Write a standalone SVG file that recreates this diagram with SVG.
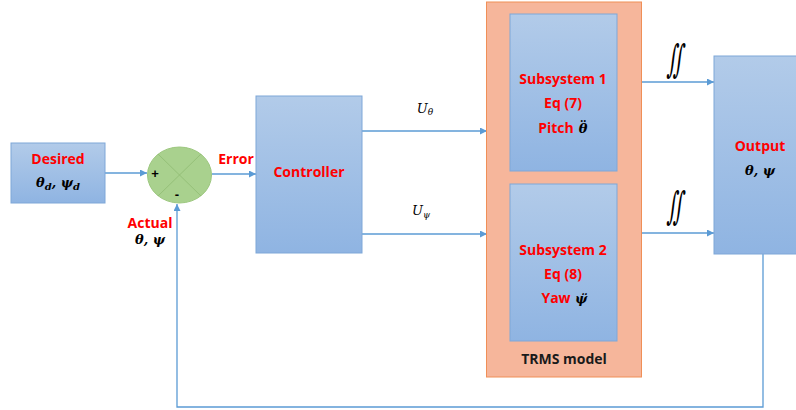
<svg xmlns="http://www.w3.org/2000/svg" width="796" height="410" viewBox="0 0 796 410">
<defs>
<linearGradient id="blue" x1="0" y1="0" x2="0" y2="1">
<stop offset="0" stop-color="#b2cbe9"/>
<stop offset="1" stop-color="#8fb4e2"/>
</linearGradient>
<marker id="arr" viewBox="0 0 10 10" refX="10" refY="5" markerWidth="7" markerHeight="7" markerUnits="userSpaceOnUse" orient="auto">
<path d="M0,0 L10,5 L0,10 z" fill="#5b9bd5"/>
</marker>
<style>
.box{fill:url(#blue);stroke:#7ea7d8;stroke-width:1}
.lbl{font-family:"Open Sans","Liberation Sans",Arial,sans-serif;font-weight:bold;font-size:14px;fill:#ff0000;text-anchor:middle}
.math{font-family:"DejaVu Serif","Liberation Serif",serif;font-weight:bold;font-style:italic;font-size:13px;fill:#000;text-anchor:middle}
.mathn{font-family:"DejaVu Serif","Liberation Serif",serif;font-style:italic;font-size:13px;fill:#000;text-anchor:middle}
.conn{fill:none;stroke:#5b9bd5;stroke-width:1.3}
.int{font-family:"DejaVu Serif",serif;font-size:24px;fill:#000;text-anchor:middle}
</style>
</defs>
<rect width="796" height="410" fill="#fff"/>

<g id="connectors">
<line class="conn" x1="105" y1="173" x2="147" y2="173" marker-end="url(#arr)"/>
<line class="conn" x1="212" y1="174" x2="256" y2="174" marker-end="url(#arr)"/>
<line class="conn" x1="362" y1="131" x2="487" y2="131" marker-end="url(#arr)"/>
<line class="conn" x1="362" y1="234" x2="487" y2="234" marker-end="url(#arr)"/>
<line class="conn" x1="642" y1="82" x2="714" y2="82" marker-end="url(#arr)"/>
<line class="conn" x1="642" y1="233" x2="714" y2="233" marker-end="url(#arr)"/>
<polyline class="conn" points="763,254 763,407 177,407 177,204" stroke="#8db4e2" stroke-width="1.5" marker-end="url(#arr)"/>
</g>

<g id="desired">
<rect class="box" x="11" y="143" width="94" height="60"/>
<text class="lbl" x="58" y="164">Desired</text>
<text class="math" x="58" y="187">θ<tspan font-size="10" dy="3">d</tspan><tspan dy="-3">, ψ</tspan><tspan font-size="10" dy="3">d</tspan></text>
</g>

<g id="sum">
<ellipse cx="179.5" cy="175" rx="32" ry="28" fill="#a9d18e" stroke="#9cc77e" stroke-width="1"/>
<line x1="158" y1="154" x2="201" y2="196" stroke="#8fbb72" stroke-width="0.8"/>
<line x1="201" y1="154" x2="158" y2="196" stroke="#8fbb72" stroke-width="0.8"/>
<text x="155" y="178" font-family="Liberation Sans,Arial,sans-serif" font-weight="bold" font-size="13" text-anchor="middle">+</text>
<text x="177" y="199" font-family="Liberation Sans,Arial,sans-serif" font-weight="bold" font-size="13" text-anchor="middle">-</text>
</g>

<g id="error-label">
<text class="lbl" x="236" y="164">Error</text>
</g>

<g id="actual-label">
<text class="lbl" x="150" y="228">Actual</text>
<text class="math" x="150" y="244" font-size="11">θ, ψ</text>
</g>

<g id="controller">
<rect class="box" x="256" y="96" width="106" height="157"/>
<text class="lbl" x="309" y="177">Controller</text>
</g>

<g id="u-labels">
<text class="mathn" x="425" y="113">U<tspan font-size="9" dy="2">θ</tspan></text>
<text class="mathn" x="421" y="215">U<tspan font-size="9" dy="3">ψ</tspan></text>
</g>

<g id="trms">
<rect x="486.5" y="2" width="155" height="375" fill="#f6b69b" stroke="#f08f57" stroke-width="1"/>
<text x="564" y="364" font-family="Open Sans,Liberation Sans,Arial,sans-serif" font-weight="bold" font-size="14" text-anchor="middle" fill="#1a1a1a">TRMS model</text>
</g>

<g id="subsystem1">
<rect class="box" x="510" y="14" width="107" height="157"/>
<text class="lbl" x="563" y="84">Subsystem 1</text>
<text class="lbl" x="563" y="108">Eq (7)</text>
<text class="lbl" x="556" y="133">Pitch</text>
<text class="math" x="583" y="133" font-size="15">θ<tspan dx="-8" font-size="16" font-style="normal" font-weight="normal">¨</tspan></text>
</g>

<g id="subsystem2">
<rect class="box" x="510" y="184" width="107" height="157"/>
<text class="lbl" x="563" y="255">Subsystem 2</text>
<text class="lbl" x="563" y="279">Eq (8)</text>
<text class="lbl" x="556" y="303">Yaw</text>
<text class="math" x="581" y="303" font-size="15">ψ̈</text>
</g>

<g id="integrals">
<text class="int" transform="translate(675,72) scale(0.8,1.6) skewX(-12)">∬</text>
<text class="int" transform="translate(675,219) scale(0.8,1.6) skewX(-12)">∬</text>
</g>

<g id="output">
<rect class="box" x="714" y="56" width="92" height="198"/>
<text class="lbl" x="760" y="151">Output</text>
<text class="math" x="760" y="175" font-size="14">θ, ψ</text>
</g>
</svg>
